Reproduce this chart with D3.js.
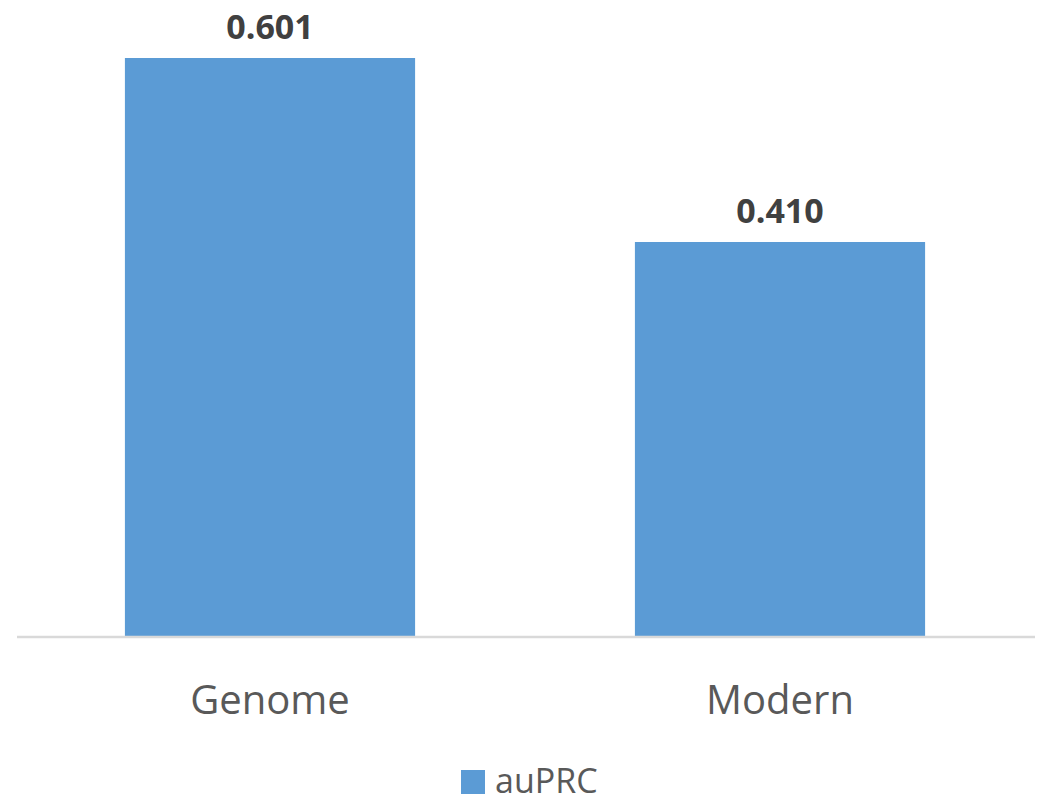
<!DOCTYPE html>
<html><head><meta charset="utf-8">
<script src="https://cdn.jsdelivr.net/npm/d3@7"></script>
<style>body{margin:0;background:#fff}svg{display:block}</style>
</head><body>
<svg id="c" width="1038" height="803"></svg>
<script>
const categories = ["Genome", "Modern"];
const values = [0.601, 0.410];
const seriesName = "auPRC";
const labels = ["0.601", "0.410"];

const svg = d3.select("#c");
const font = "'Open Sans', 'Noto Sans', sans-serif";
const x = d3.scaleBand().domain(categories).range([15, 1035]).paddingInner(0.431).paddingOuter(0.2155);
const y = d3.scaleLinear().domain([0, 0.601]).range([637, 58]);

svg.selectAll("rect.bar").data(values).join("rect")
  .attr("class", "bar")
  .attr("x", (d, i) => x(categories[i]))
  .attr("width", x.bandwidth())
  .attr("y", d => y(d))
  .attr("height", d => y(0) - y(d))
  .attr("fill", "#5B9BD5");

svg.append("line").attr("x1", 17).attr("x2", 1035).attr("y1", 637).attr("y2", 637)
  .attr("stroke", "#d9d9d9").attr("stroke-width", 2.5);

svg.selectAll("text.val").data(values).join("text")
  .attr("class", "val")
  .attr("x", (d, i) => x(categories[i]) + x.bandwidth() / 2)
  .attr("y", d => y(d) - 19)
  .attr("text-anchor", "middle")
  .attr("font-family", font).attr("font-weight", "bold").attr("font-size", 34)
  .attr("fill", "#404040")
  .text((d, i) => labels[i]);

svg.selectAll("text.cat").data(categories).join("text")
  .attr("class", "cat")
  .attr("x", d => x(d) + x.bandwidth() / 2)
  .attr("y", 714)
  .attr("text-anchor", "middle")
  .attr("font-family", font).attr("font-size", 40)
  .attr("fill", "#595959")
  .text(d => d);

const lg = svg.append("g");
lg.append("rect").attr("x", 461).attr("y", 770).attr("width", 24).attr("height", 24).attr("fill", "#5B9BD5");
lg.append("text").attr("x", 495).attr("y", 793)
  .attr("font-family", font).attr("font-size", 34).attr("fill", "#595959").text(seriesName);
</script>
</body></html>
